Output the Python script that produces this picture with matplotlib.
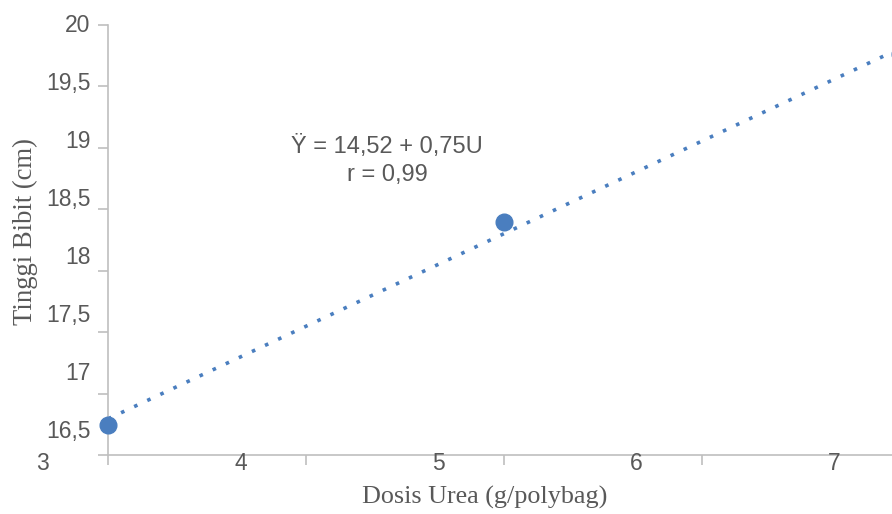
import matplotlib
matplotlib.use("Agg")
import matplotlib.pyplot as plt
import numpy as np

# Data
dosis = [3, 5, 7]
tinggi = [16.745, 18.40, 19.76]
x_ticks = [3, 4, 5, 6, 7]
x_tick_labels = ["3", "4", "5", "6", "7"]
y_ticks = [16.5, 17, 17.5, 18, 18.5, 19, 19.5, 20]
y_tick_labels = ["16,5", "17", "17,5", "18", "18,5", "19", "19,5", "20"]
equation = "Ÿ = 14,52 + 0,75U\nr = 0,99"

W, H = 892, 514
fig = plt.figure(figsize=(W / 100, H / 100), dpi=100)
ax = fig.add_axes([108 / W, (H - 455) / H, 792 / W, 430 / H])

blue = "#4A7EBF"
gray_txt = "#595959"
spine = "#BFBFBF"

ax.set_xlim(3, 7)
ax.set_ylim(16.5, 20)

# trendline
coef = np.polyfit(dosis, tinggi, 1)
xs = np.array([3, 7])
ax.plot(xs, np.polyval(coef, xs), color=blue, lw=2.6, linestyle=(0, (1, 3.0)),
        zorder=2, clip_on=False, dash_capstyle="butt")
ax.plot(dosis, tinggi, "o", color=blue, ms=12, zorder=3, clip_on=False, mec=blue)

for s in ["top", "right"]:
    ax.spines[s].set_visible(False)
for s in ["left", "bottom"]:
    ax.spines[s].set_color(spine)
    ax.spines[s].set_linewidth(1.2)

ax.set_xticks(x_ticks)
ax.set_yticks(y_ticks)
ax.set_xticklabels([])
ax.set_yticklabels([])
ax.tick_params(axis="both", direction="out", length=7, width=1.2, color=spine)

# tick labels (rendered offset from ticks as in the original)
trans_x = ax.get_xaxis_transform()
for v, lab in zip(x_ticks, x_tick_labels):
    ax.text(v - 0.33, -0.019, lab, transform=trans_x, ha="center", va="center",
            fontsize=16.5, color=gray_txt, family="Liberation Sans", clip_on=False)

trans_y = ax.get_yaxis_transform()
for v, lab in zip(y_ticks, y_tick_labels):
    pos = 20 - (20 - v) * 0.946
    ax.text(-0.022, pos, lab, transform=trans_y, ha="right", va="center",
            fontsize=16.5, color=gray_txt, family="Liberation Sans", clip_on=False)

fig.text(485 / W, 1 - 497 / H, "Dosis Urea (g/polybag)", ha="center", va="center",
         fontsize=18.8, color=gray_txt, family="Liberation Serif")
fig.text(25 / W, 1 - 232 / H, "Tinggi Bibit (cm)", ha="center", va="center",
         rotation=90, fontsize=19.2, color=gray_txt, family="Liberation Serif")

fig.text(387 / W, 1 - 160.5 / H, equation, ha="center", va="center",
         fontsize=17, color=gray_txt, family="Liberation Sans", linespacing=1.4)

fig.savefig("out.png", dpi=100)
